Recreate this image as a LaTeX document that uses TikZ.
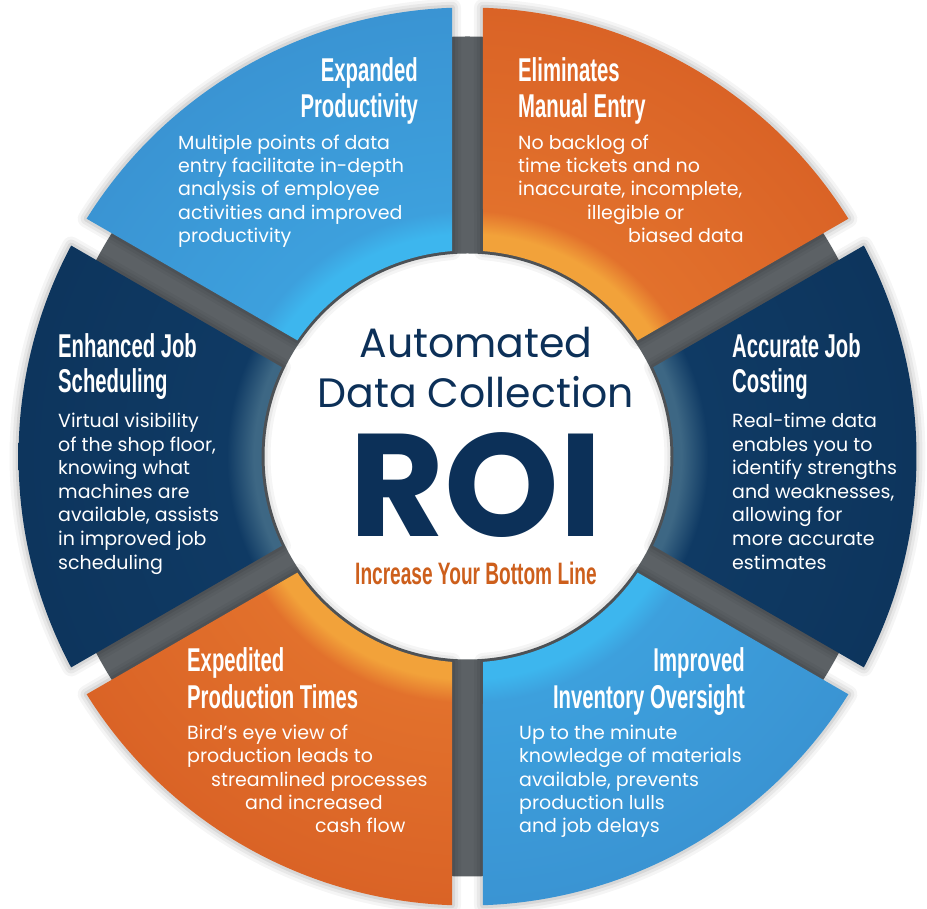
\documentclass[tikz,border=0pt]{standalone}
\usepackage{fontspec}
\setmainfont{Poppins}
\newfontfamily\tfont{Liberation Sans}
\usetikzlibrary{calc}
\definecolor{oband}{HTML}{F2A23A}
\definecolor{omid}{HTML}{E2712C}
\definecolor{oout}{HTML}{DA6326}
\definecolor{bband}{HTML}{3DB6EE}
\definecolor{bmid}{HTML}{3DA0DD}
\definecolor{bout}{HTML}{3A94D3}
\definecolor{nband}{HTML}{3D6784}
\definecolor{nmid}{HTML}{0F3A64}
\definecolor{nout}{HTML}{0D355D}
\definecolor{gring}{HTML}{5C6165}
\definecolor{navytext}{HTML}{0C3058}
\definecolor{orangetext}{HTML}{CD5F1C}
% radii: r px -> r/449*25 bp
\pgfdeclareradialshading{shorange}{\pgfpoint{0bp}{0bp}}{color(0bp)=(oband); color(11.5bp)=(oband); color(12.4bp)=(oband); color(13.7bp)=(omid); color(25bp)=(oout); color(50bp)=(oout)}
\pgfdeclareradialshading{shblue}{\pgfpoint{0bp}{0bp}}{color(0bp)=(bband); color(11.5bp)=(bband); color(12.4bp)=(bband); color(13.7bp)=(bmid); color(25bp)=(bout); color(50bp)=(bout)}
\pgfdeclareradialshading{shnavy}{\pgfpoint{0bp}{0bp}}{color(0bp)=(nband); color(11.5bp)=(nband); color(11.9bp)=(nband); color(13.4bp)=(nmid); color(25bp)=(nout); color(50bp)=(nout)}
\newcommand\sx[1]{\scalebox{0.615}[1]{#1}}
\tikzset{
  tstyle/.style={font=\tfont\bfseries\fontsize{33}{36}\selectfont, text=white, inner sep=0pt},
  body/.style={font=\fontsize{19}{22}\selectfont, text=white, inner sep=0pt, anchor=base west},
}
\begin{document}
\begin{tikzpicture}[x=1pt,y=1pt]
\useasboundingbox (0,0) rectangle (927,909);
\fill[white] (0,0) rectangle (927,909);
\coordinate (C) at (467.5,452.5);
\pgfmathsetmacro\Rout{449}
\pgfmathsetmacro\Rin{206}
\pgfmathsetmacro\dout{asin(15.5/449)}
\pgfmathsetmacro\din{asin(15.5/206)}
% gray ring behind
\fill[gring, even odd rule] (C) circle[radius=420] (C) circle[radius=203];
% shadows
\foreach \a/\b in {30/90,90/150,150/210,210/270,270/330,330/390}{
  \foreach \w/\o in {18/0.04,12/0.05,6/0.07}{
    \draw[black, opacity=\o, line width=\w, line join=round, shift={(3,-3)}]
      ($(C)+(\a+\dout:\Rout)$) arc[start angle=\a+\dout, end angle=\b-\dout, radius=\Rout]
      -- ($(C)+(\b-\din:\Rin)$) arc[start angle=\b-\din, end angle=\a+\din, radius=\Rin] -- cycle;
  }
}
% segments
\foreach \a/\b/\sh in {30/90/shorange,90/150/shblue,150/210/shnavy,210/270/shorange,270/330/shblue,330/390/shnavy}{
  \begin{scope}
    \clip ($(C)+(\a+\dout:\Rout)$) arc[start angle=\a+\dout, end angle=\b-\dout, radius=\Rout]
      -- ($(C)+(\b-\din:\Rin)$) arc[start angle=\b-\din, end angle=\a+\din, radius=\Rin] -- cycle;
    \shade[shading=\sh] (C) circle[radius=\Rout];
  \end{scope}
}
% centre texts
\node[inner sep=0pt, anchor=base, text=navytext, font=\fontsize{41}{41}\selectfont] (auto) at (476,551) {Automated};
\node[inner sep=0pt, anchor=base, text=navytext, font=\fontsize{41}{41}\selectfont] (dc) at (475.5,501) {Data Collection};
\node[inner sep=0pt, anchor=base, text=navytext, font=\bfseries\fontsize{146}{146}\selectfont] (roi) at (476,372) {ROI};
\node[inner sep=0pt, anchor=base, text=orangetext, font=\tfont\bfseries\fontsize{31}{31}\selectfont] (ibl) at (476,324) {\scalebox{0.616}[1]{Increase Your Bottom Line}};
% Expanded Productivity
\node[tstyle, anchor=base east] (ept1) at (418,827) {\sx{Expanded}};
\node[tstyle, anchor=base east] (ept2) at (418,791) {\sx{Productivity}};
\foreach \y/\t [count=\i] in {759/{Multiple points of data},736/{entry facilitate in-depth},713/{analysis of employee},689/{activities and improved},666/{productivity}}
  \node[body] (epb\i) at (178,\y) {\t};
% Eliminates Manual Entry
\node[tstyle, anchor=base west] (emt1) at (518,827) {\sx{Eliminates}};
\node[tstyle, anchor=base west] (emt2) at (518,791) {\sx{Manual Entry}};
\foreach \x/\y/\t [count=\i] in {518/759/{No backlog of},518/736/{time tickets and no},518/713/{inaccurate, incomplete,},587/689/{illegible or},628/666/{biased data}}
  \node[body] (emb\i) at (\x,\y) {\t};
% Enhanced Job Scheduling
\node[tstyle, anchor=base west] (ejt1) at (58,551) {\sx{Enhanced Job}};
\node[tstyle, anchor=base west] (ejt2) at (58,516) {\sx{Scheduling}};
\foreach \y/\t [count=\i] in {481/{Virtual visibility},457/{of the shop floor,},434/{knowing what},410/{machines are},387/{available, assists},363/{in improved job},339/{scheduling}}
  \node[body] (ejb\i) at (58,\y) {\t};
% Accurate Job Costing
\node[tstyle, anchor=base west] (ajt1) at (732,551) {\sx{Accurate Job}};
\node[tstyle, anchor=base west] (ajt2) at (732,516) {\sx{Costing}};
\foreach \y/\t [count=\i] in {481/{Real-time data},457/{enables you to},434/{identify strengths},410/{and weaknesses,},387/{allowing for},363/{more accurate},339/{estimates}}
  \node[body] (ajb\i) at (732,\y) {\t};
% Expedited Production Times
\node[tstyle, anchor=base west] (ext1) at (187,237) {\sx{Expedited}};
\node[tstyle, anchor=base west] (ext2) at (187,200) {\sx{Production Times}};
\foreach \x/\y/\t [count=\i] in {187/169/{Bird’s eye view of},187/146/{production leads to},211/122/{streamlined processes},245/99/{and increased},315/76/{cash flow}}
  \node[body] (exb\i) at (\x,\y) {\t};
% Improved Inventory Oversight
\node[tstyle, anchor=base east] (iit1) at (745,237) {\sx{Improved}};
\node[tstyle, anchor=base east] (iit2) at (745,200) {\sx{Inventory Oversight}};
\foreach \y/\t [count=\i] in {169/{Up to the minute},146/{knowledge of materials},122/{available, prevents},99/{production lulls},76/{and job delays}}
  \node[body] (iib\i) at (519,\y) {\t};
\end{tikzpicture}
\end{document}
